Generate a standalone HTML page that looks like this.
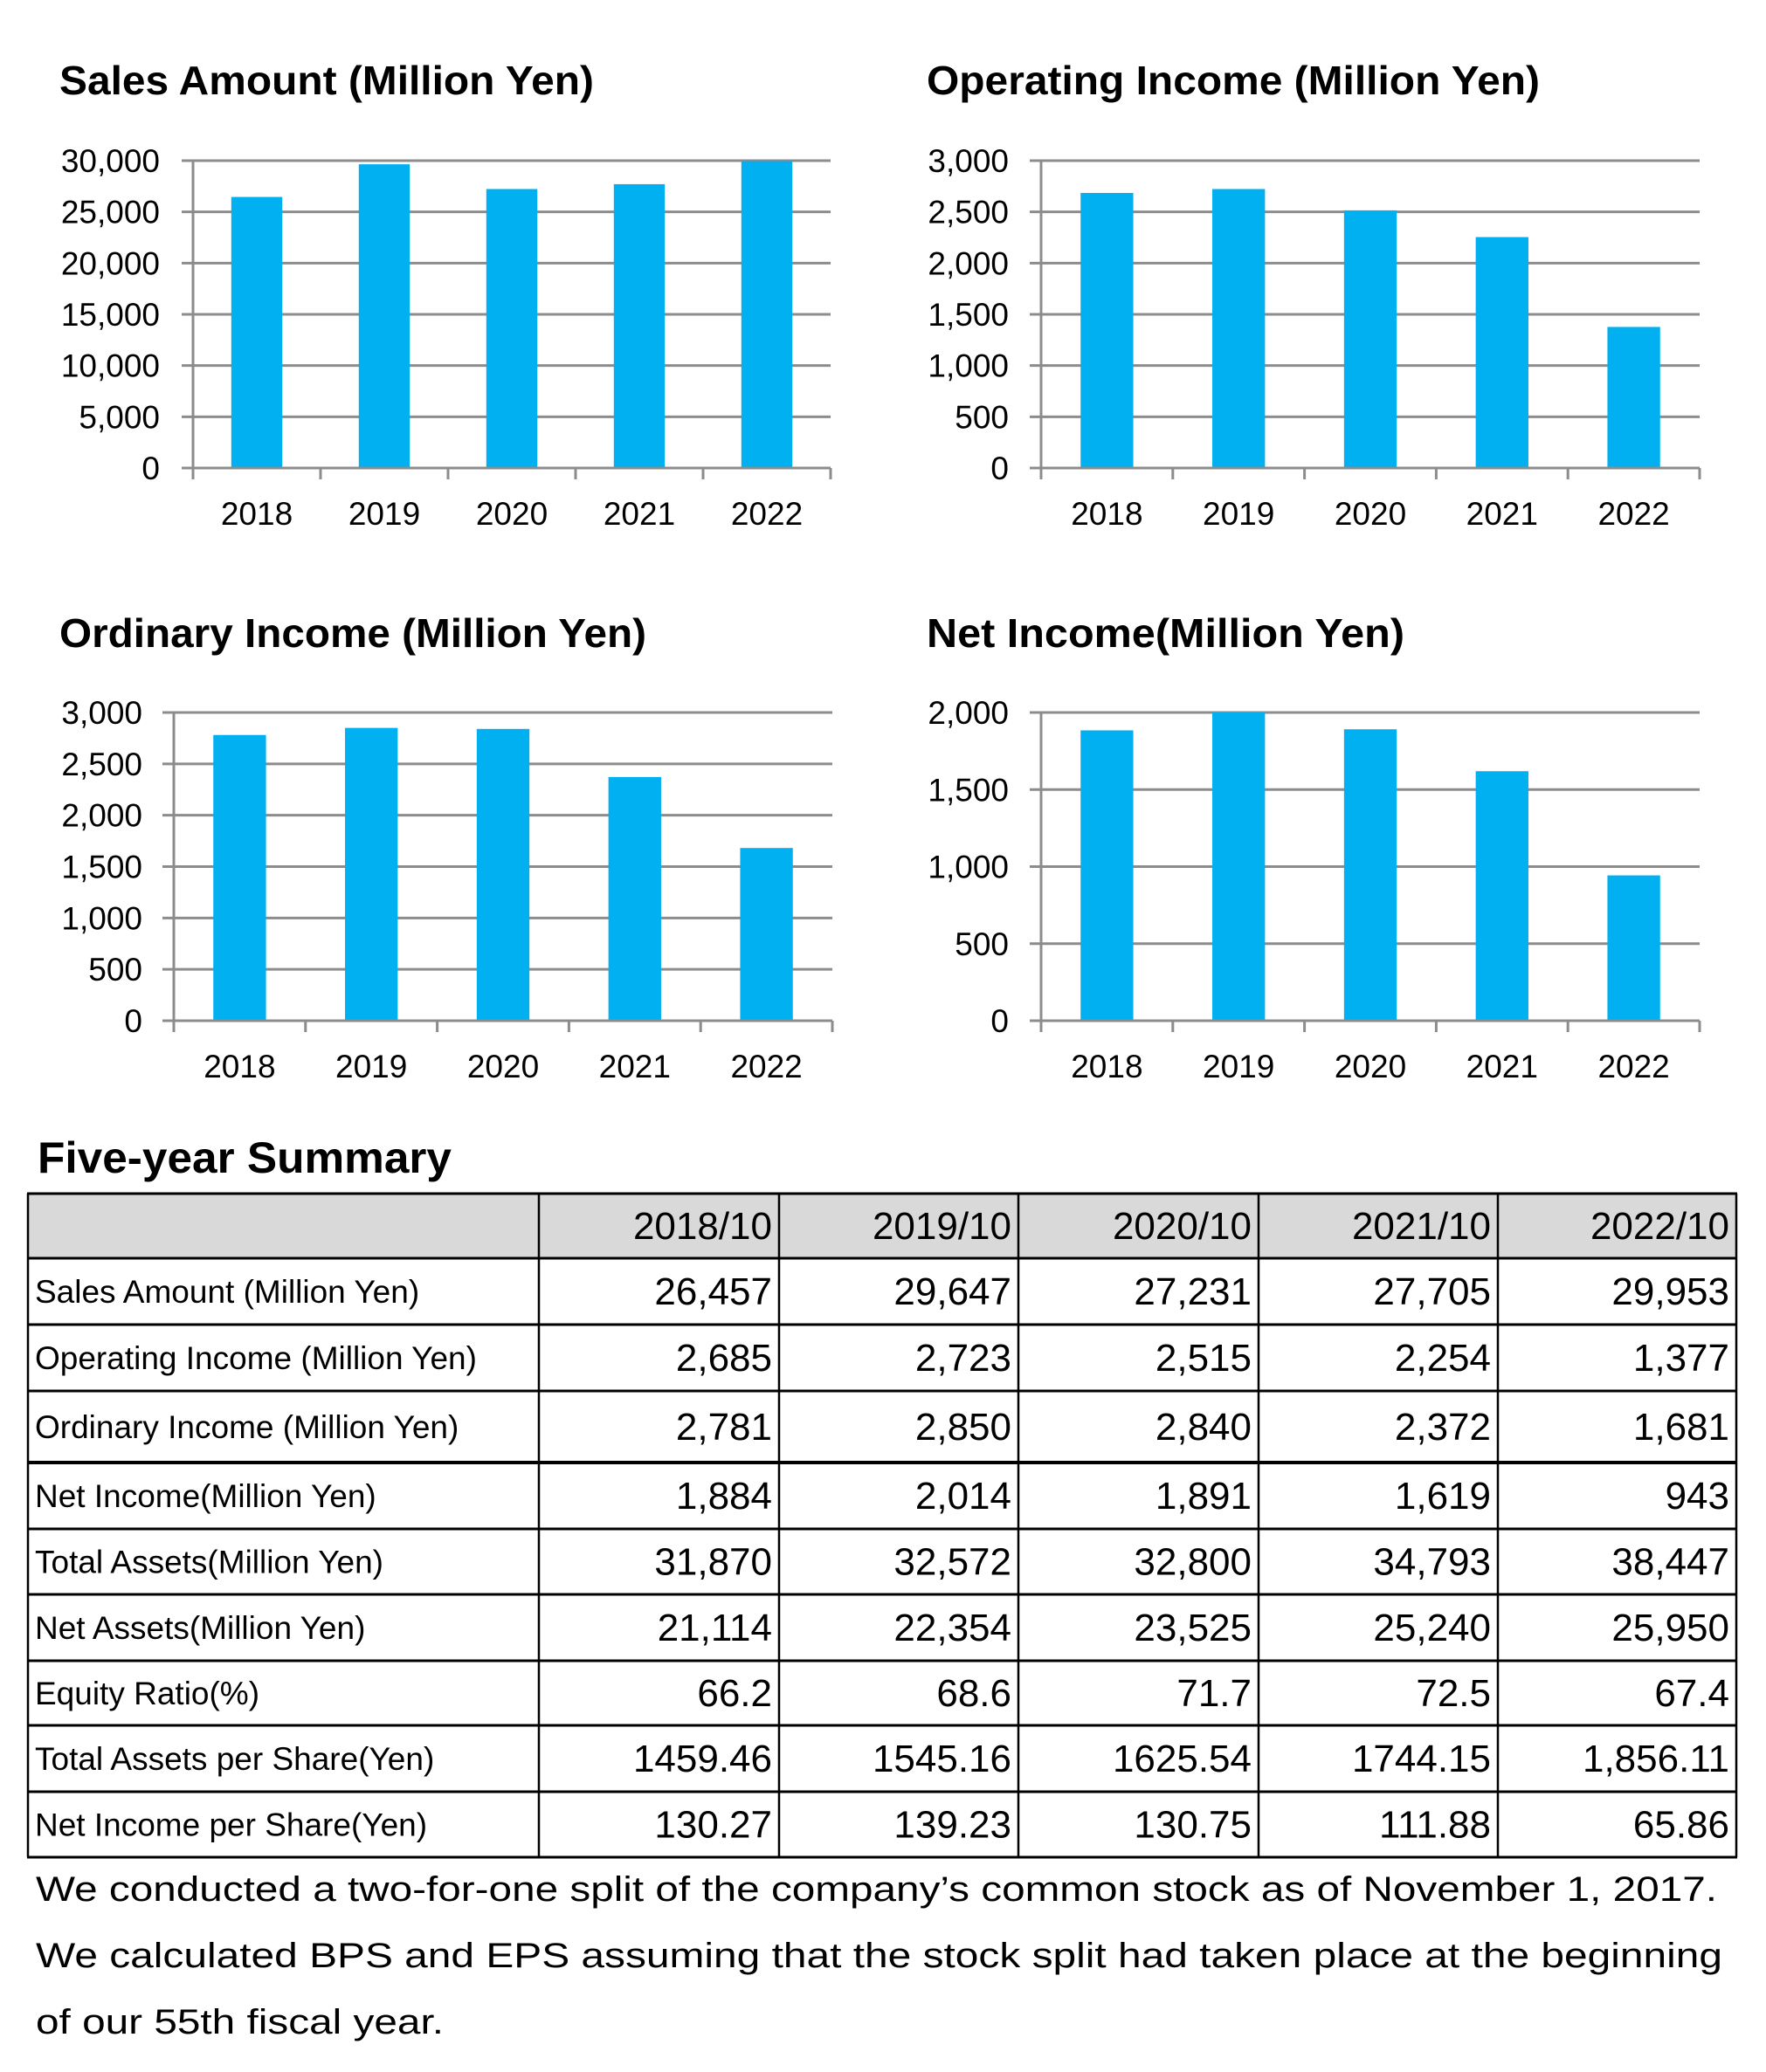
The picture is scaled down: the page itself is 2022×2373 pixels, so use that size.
<!DOCTYPE html>
<html><head><meta charset="utf-8">
<style>
html,body{margin:0;padding:0;background:#fff;}
svg{display:block;}
text{font-family:"Liberation Sans Narrow","Liberation Sans",sans-serif;fill:#000;}
.ft{font-family:"Liberation Sans",sans-serif;}
</style></head>
<body>
<svg id="s" width="2022" height="2373" viewBox="0 0 2022 2373" xmlns="http://www.w3.org/2000/svg"></svg>
<script>
var o='';
function chart(title,tx,ty,tl,L,R,T,B,max,step,vals,lblR,fs){
  o+='<text x="'+tx+'" y="'+ty+'" font-size="46" font-weight="bold" textLength="'+tl+'" lengthAdjust="spacingAndGlyphs">'+title+'</text>';
  var n=max/step;
  for(var i=0;i<=n;i++){
    var y=B-(B-T)*i/n;
    o+='<line x1="'+(L-13)+'" y1="'+y+'" x2="'+R+'" y2="'+y+'" stroke="#8c8c8c" stroke-width="3"/>';
    var v=(step*i).toLocaleString('en-US');
    o+='<text x="'+lblR+'" y="'+(y+13)+'" font-size="37" text-anchor="end">'+v+'</text>';
  }
  var cw=(R-L)/5, bw=cw*0.4;
  var yrs=['2018','2019','2020','2021','2022'];
  for(var j=0;j<5;j++){
    var c=L+cw*(j+0.5); var v=Math.min(vals[j],max);
    var h=(B-T)*v/max;
    o+='<rect x="'+(c-bw/2)+'" y="'+(B-h)+'" width="'+bw+'" height="'+h+'" fill="#00b0f0"/>';
    o+='<text x="'+c+'" y="'+(B+65)+'" font-size="37" text-anchor="middle">'+yrs[j]+'</text>';
  }
  o+='<line x1="'+L+'" y1="'+T+'" x2="'+L+'" y2="'+(B+13)+'" stroke="#8c8c8c" stroke-width="3"/>';
  o+='<line x1="'+L+'" y1="'+B+'" x2="'+R+'" y2="'+B+'" stroke="#8c8c8c" stroke-width="3"/>';
  for(var j=0;j<=5;j++){var x=L+cw*j;o+='<line x1="'+x+'" y1="'+B+'" x2="'+x+'" y2="'+(B+13)+'" stroke="#8c8c8c" stroke-width="3"/>';}
}
chart('Sales Amount (Million Yen)',68,108,612,221,951,184,536,30000,5000,[26457,29647,27231,27705,29953],183);
chart('Operating Income (Million Yen)',1061,108,702,1192,1946,184,536,3000,500,[2685,2723,2515,2254,1377],1155);
chart('Ordinary Income (Million Yen)',68,741,672,199,953,816,1169,3000,500,[2781,2850,2840,2372,1681],163);
chart('Net Income(Million Yen)',1061,741,547,1192,1946,816,1169,2000,500,[1884,2014,1891,1619,943],1155);

o+='<text x="43" y="1343" font-size="50" font-weight="bold" textLength="474" lengthAdjust="spacingAndGlyphs">Five-year Summary</text>';
var cols=[32,617,892,1166,1441,1715,1988];
var rows=[1367,1441,1517,1593,1675,1751,1826,1902,1976,2052,2127];
o+='<rect x="32" y="1367" width="1956" height="74" fill="#d9d9d9"/>';
var data=[
['','2018/10','2019/10','2020/10','2021/10','2022/10'],
['Sales Amount (Million Yen)','26,457','29,647','27,231','27,705','29,953'],
['Operating Income (Million Yen)','2,685','2,723','2,515','2,254','1,377'],
['Ordinary Income (Million Yen)','2,781','2,850','2,840','2,372','1,681'],
['Net Income(Million Yen)','1,884','2,014','1,891','1,619','943'],
['Total Assets(Million Yen)','31,870','32,572','32,800','34,793','38,447'],
['Net Assets(Million Yen)','21,114','22,354','23,525','25,240','25,950'],
['Equity Ratio(%)','66.2','68.6','71.7','72.5','67.4'],
['Total Assets per Share(Yen)','1459.46','1545.16','1625.54','1744.15','1,856.11'],
['Net Income per Share(Yen)','130.27','139.23','130.75','111.88','65.86']];
for(var r=0;r<data.length;r++){
  var y=(rows[r]+rows[r+1])/2+14;
  for(var c=0;c<6;c++){
    if(c==0){o+='<text x="40" y="'+(y-1)+'" font-size="37">'+data[r][0]+'</text>';}
    else o+='<text x="'+(cols[c+1]-8)+'" y="'+(y+1)+'" font-size="44" text-anchor="end">'+data[r][c]+'</text>';
  }
}
for(var r=0;r<rows.length;r++){var w=(r==4)?4:3;o+='<line x1="31" y1="'+rows[r]+'" x2="1989" y2="'+rows[r]+'" stroke="#000" stroke-width="'+w+'"/>';}
for(var c=0;c<cols.length;c++){o+='<line x1="'+cols[c]+'" y1="1367" x2="'+cols[c]+'" y2="2127" stroke="#000" stroke-width="2.5"/>';}
o+='<text class="ft" x="41" y="2177" font-size="40" textLength="1925" lengthAdjust="spacingAndGlyphs">We conducted a two-for-one split of the company’s common stock as of November 1, 2017.</text>';
o+='<text class="ft" x="41" y="2253" font-size="40" textLength="1931" lengthAdjust="spacingAndGlyphs">We calculated BPS and EPS assuming that the stock split had taken place at the beginning</text>';
o+='<text class="ft" x="41" y="2329" font-size="40" textLength="467" lengthAdjust="spacingAndGlyphs">of our 55th fiscal year.</text>';
document.getElementById('s').innerHTML=o;
</script>
</body></html>
